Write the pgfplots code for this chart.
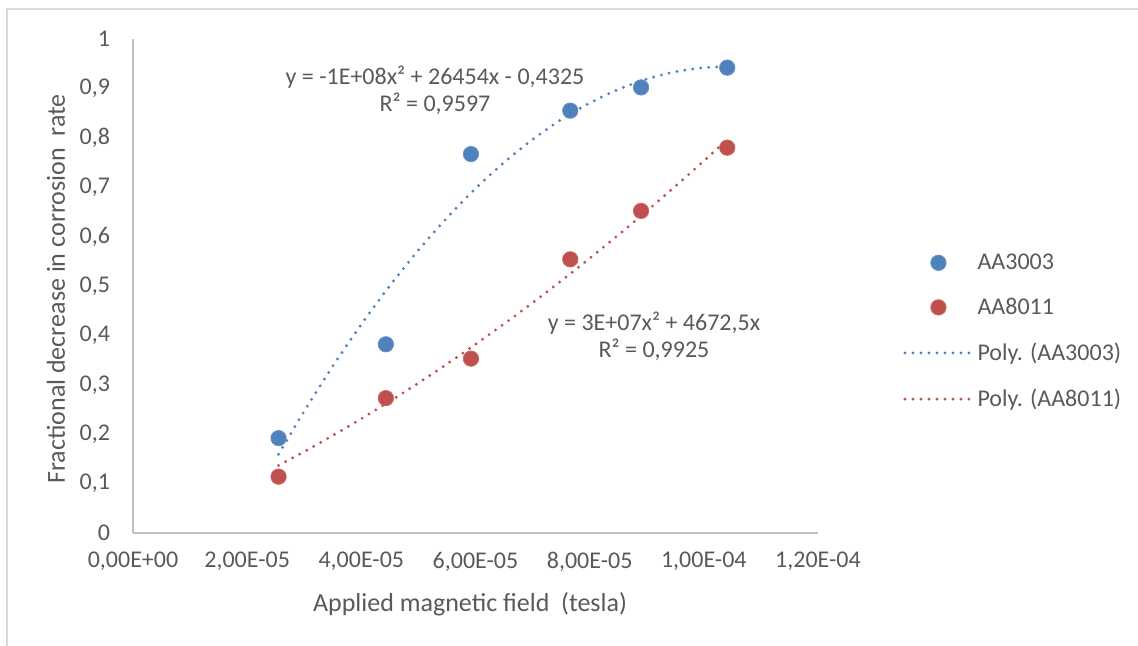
\documentclass[border=0pt]{standalone}
\usepackage{fontspec}
\setmainfont{Carlito}
\usepackage{pgfplots}
\pgfplotsset{compat=1.18}
\definecolor{txt}{HTML}{595959}
\definecolor{axl}{HTML}{BFBFBF}
\definecolor{bord}{HTML}{D9D9D9}
\definecolor{cblue}{HTML}{4F81BD}
\definecolor{cred}{HTML}{C0504D}
\pgfplotsset{
  legmark/.style={legend image code/.code={\draw[##1] plot coordinates {(16.75pt,0pt)};}},
  legline/.style={legend image code/.code={\draw[##1] (0pt,0pt) -- (33.5pt,0pt);}},
}
\begin{document}
\begin{tikzpicture}
\useasboundingbox (0,0) rectangle (569pt,323pt);
\draw[bord, line width=0.75pt] (3.5pt,0pt) -- (3.5pt,318.5pt) -- (569pt,318.5pt);
\begin{axis}[
  at={(66.5pt,56.5pt)}, anchor=south west,
  scale only axis, width=342.5pt, height=247pt,
  xmin=0, xmax=1.2e-4, ymin=0, ymax=1,
  axis x line*=bottom, axis y line*=left,
  axis line style={axl, line width=0.75pt, -},
  major tick length=0pt,
  scaled x ticks=false, scaled y ticks=false,
  xtick={0,2e-5,4e-5,6e-5,8e-5,1e-4,1.2e-4},
  xticklabels={{0,00E+00},{2,00E-05},{4,00E-05},{6,00E-05},{8,00E-05},{1,00E-04},{1,20E-04}},
  ytick={0,0.1,0.2,0.3,0.4,0.5,0.6,0.7,0.8,0.9,1},
  yticklabels={0,{0,1},{0,2},{0,3},{0,4},{0,5},{0,6},{0,7},{0,8},{0,9},1},
  tick label style={font=\fontsize{12}{14}\selectfont, text=txt},
  xticklabel style={yshift=-6pt},
  yticklabel style={xshift=-8pt},
  xlabel={Applied magnetic field\ \ (tesla)},
  ylabel={Fractional decrease in corrosion\ \ rate},
  every axis x label/.style={at={(axis description cs:0.492,-0.1437)}, anchor=center,
    font=\fontsize{13}{15}\selectfont, text=txt},
  every axis y label/.style={at={(axis description cs:-0.1124,0.494)}, anchor=center, rotate=90,
    font=\fontsize{13}{15}\selectfont, text=txt},
  legend style={at={(axis description cs:1.124,0.408)}, anchor=west, draw=none, fill=none,
    font=\fontsize{12}{14}\selectfont, text=txt, row sep=8.8pt, inner sep=0pt,
    /tikz/every even column/.append style={column sep=5pt}},
  legend cell align=left,
  clip=false,
]
\addplot[only marks, mark=*, mark size=3.85pt, mark options={fill=cblue, draw=cblue!85!white, line width=0.4pt}, legmark]
  coordinates {(2.55e-5,0.192) (4.43e-5,0.382) (5.92e-5,0.767) (7.66e-5,0.855) (8.90e-5,0.902) (10.41e-5,0.942)};
\addlegendentry{AA3003}
\addplot[only marks, mark=*, mark size=3.85pt, mark options={fill=cred, draw=cred!85!white, line width=0.4pt}, legmark]
  coordinates {(2.55e-5,0.114) (4.43e-5,0.273) (5.92e-5,0.353) (7.66e-5,0.554) (8.90e-5,0.652) (10.41e-5,0.780)};
\addlegendentry{AA8011}
\addplot[cblue, line width=1.6pt, line cap=round, dash pattern=on 0pt off 4pt, smooth, legline]
  coordinates {(2.55e-5,0.1594) (3.0e-5,0.2467) (3.5e-5,0.3377) (4.0e-5,0.4223) (4.5e-5,0.5006) (5.0e-5,0.5725) (5.5e-5,0.6380) (6.0e-5,0.6972) (6.5e-5,0.7500) (7.0e-5,0.7965) (7.5e-5,0.8366) (8.0e-5,0.8704) (8.5e-5,0.8978) (9.0e-5,0.9189) (9.5e-5,0.9336) (10.0e-5,0.9419) (10.41e-5,0.9440)};
\addlegendentry{Poly. (AA3003)}
\addplot[cred, line width=1.6pt, line cap=round, dash pattern=on 0pt off 4pt, smooth, legline]
  coordinates {(2.55e-5,0.1367) (3.0e-5,0.1647) (3.5e-5,0.1973) (4.0e-5,0.2313) (4.5e-5,0.2668) (5.0e-5,0.3037) (5.5e-5,0.3421) (6.0e-5,0.3820) (6.5e-5,0.4233) (7.0e-5,0.4660) (7.5e-5,0.5103) (8.0e-5,0.5560) (8.5e-5,0.6031) (9.0e-5,0.6517) (9.5e-5,0.7018) (10.0e-5,0.7533) (10.41e-5,0.7966)};
\addlegendentry{Poly. (AA8011)}
\node[align=center, text=txt, font=\fontsize{12}{13.5}\selectfont] at (axis cs:5.29e-5,0.897) {y = -1E+08x² + 26454x - 0,4325\\R² = 0,9597};
\node[align=center, text=txt, font=\fontsize{12}{13.5}\selectfont] at (axis cs:9.127e-5,0.399) {y = 3E+07x² + 4672,5x\\R² = 0,9925};
\end{axis}
\end{tikzpicture}
\end{document}
